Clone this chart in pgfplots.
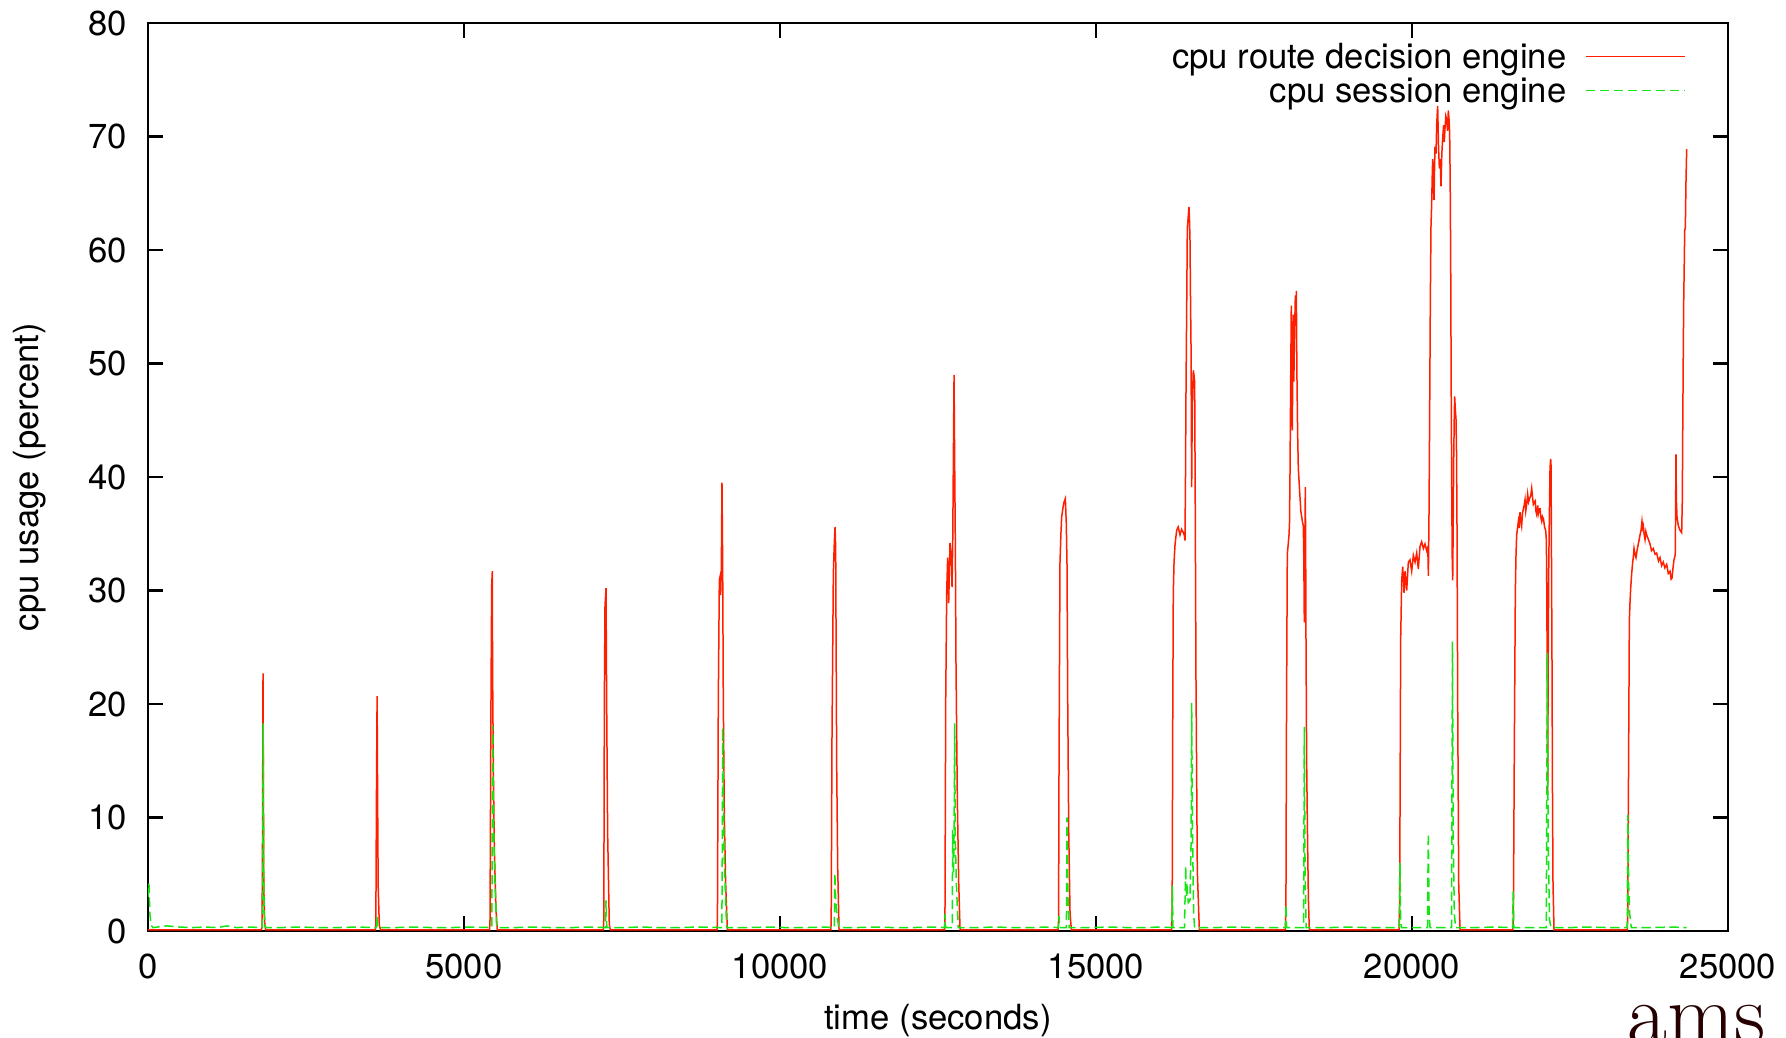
\documentclass[border=0pt]{standalone}
\usepackage{fontspec}
\setmainfont{TeX Gyre Heros}
\usepackage{pgfplots}
\pgfplotsset{compat=1.18}
\definecolor{cpured}{RGB}{255,30,0}
\definecolor{cpugreen}{RGB}{20,230,20}
\newcommand{\chartfont}{\fontsize{10.4bp}{12.5bp}\selectfont}
\begin{document}
\begin{tikzpicture}
\useasboundingbox (-44.4bp,-32.1bp) rectangle (491.4bp,279.3bp);
\begin{axis}[
  scale only axis, width=474bp, height=272.4bp,
  xmin=0, xmax=25000, ymin=0, ymax=80,
  xtick={0,5000,...,25000}, ytick={0,10,...,80},
  minor tick num=0,
  /pgf/number format/assume math mode=true,
  /pgf/number format/1000 sep={},
  scaled x ticks=false, scaled y ticks=false,
  tick align=inside, major tick length=4.5bp,
  every tick/.style={black, line width=0.7bp},
  axis line style={line width=0.7bp},
  tick label style={font=\chartfont},
  label style={font=\chartfont},
  yticklabel style={xshift=-2.7bp},
  xticklabel style={yshift=-3.5bp},
  xlabel={time (seconds)}, ylabel={cpu usage (percent)},
  xlabel style={at={(axis description cs:0.5,-0.109)}, anchor=base},
  ylabel style={at={(axis description cs:-0.0696,0.5)}, anchor=base},
  legend cell align=right, legend plot pos=right,
  legend style={draw=none, fill=none, inner sep=0pt, font=\chartfont,
    at={(axis description cs:0.9734,0.978)}, anchor=north east,
    row sep=-0.3bp, column sep=5.5bp,
    nodes={inner sep=0pt, text height=7.6bp, text depth=2.9bp}},
  legend image code/.code={\draw[#1] (0bp,1.4bp) -- (29.7bp,1.4bp);},
]
\addplot[cpured, line width=0.45bp] coordinates {
(0,0.1)(1790,0.1)(1805,0.3)(1812,8)(1820,22.7)(1825,14)(1832,4)(1845,0.8)(1860,0.1)
(3595,0.1)(3605,0.5)(3615,12)(3625,20.7)(3633,12)(3642,4)(3660,0.5)(3680,0.1)
(5405,0.1)(5412,1)(5425,18.3)(5438,30.4)(5448,31.7)(5452,23.3)(5464,14.5)(5480,7.2)(5506,1.9)(5527,0.1)
(7205,0.1)(7212,1)(7221,20.3)(7231,28.6)(7247,30.2)(7257,20.3)(7273,8.6)(7299,0.6)(7315,0.1)
(9005,0.1)(9010,1)(9024,20.3)(9040,30.9)(9051,31.2)(9061,29.6)(9072,32.1)(9082,39.5)(9093,32.1)(9103,20.3)(9119,10.1)(9140,4.2)(9167,0.1)
(10805,0.1)(10810,1)(10823,17.4)(10844,31.5)(10860,34.3)(10871,35.6)(10881,33.8)(10887,26.3)(10897,14.5)(10913,5.6)(10934,0.1)
(12604,0.1)(12610,1)(12622,20.3)(12638,30)(12653,32.9)(12669,28.9)(12690,34.2)(12710,33)(12722,30.3)(12733,34.2)(12743,41.5)(12754,49)(12760,44)(12769,37.7)(12775,33.6)(12785,23.3)(12806,11.5)(12828,4.2)(12849,0.1)
(14400,0.1)(14408,1)(14415,14.8)(14430,32.4)(14445,35)(14457,36.5)(14475,37.2)(14494,37.8)(14515,38.1)(14530,35.9)(14541,32.4)(14552,20.7)(14568,8.9)(14589,1.6)(14610,0.1)
(16195,0.1)(16205,2)(16215,20)(16223,29.8)(16235,32.5)(16250,34)(16276,35.3)(16300,35.6)(16329,34.9)(16355,35.4)(16382,35.1)(16400,34.8)(16408,34.4)(16416,40)(16424,47.5)(16435,55)(16445,61.9)(16460,63)(16471,63.8)(16480,62.5)(16487,61)(16495,56)(16503,51.8)(16514,39.1)(16520,44)(16529,47.5)(16540,49.4)(16550,49)(16561,48.4)(16570,38)(16582,22.2)(16603,5.3)(16635,0.1)
(17995,0.1)(18005,2)(18015,20)(18027,33.2)(18040,34)(18054,34.9)(18062,36)(18069,39.9)(18080,48)(18090,55.1)(18098,47)(18106,44.1)(18114,50)(18122,54.3)(18130,48.4)(18140,52)(18154,56)(18162,54)(18170,56.4)(18178,49.6)(18190,44)(18201,40.8)(18214,39.5)(18228,38.2)(18241,37)(18254,36.5)(18268,36)(18280,35.7)(18288,33)(18296,27.2)(18304,33)(18312,39.1)(18318,33)(18322,26.4)(18333,15)(18344,9.5)(18360,3)(18375,0.1)
(19795,0.1)(19805,3)(19821,25.8)(19837,30.9)(19853,32.1)(19874,29.8)(19890,31.7)(19916,30)(19942,32.5)(19968,32.7)(19995,31.7)(20021,33.1)(20048,32.5)(20074,33.3)(20100,31.9)(20127,33.9)(20153,34.3)(20180,33.7)(20206,34.1)(20232,33.5)(20250,33.8)(20259,31.3)(20268,36)(20275,41.6)(20290,55.4)(20300,62)(20311,64)(20320,66.5)(20327,68)(20337,66)(20348,64.4)(20356,67)(20364,69.1)(20380,68.5)(20391,71.1)(20406,72.7)(20420,69)(20433,67.2)(20446,68)(20459,65.6)(20472,68.5)(20486,69.9)(20500,71)(20510,69.5)(20522,70.7)(20535,71.8)(20549,71.5)(20562,70.5)(20575,72.3)(20586,71.5)(20596,70.3)(20604,66)(20612,59.3)(20620,48)(20628,39.6)(20636,33)(20644,30.9)(20652,36)(20660,41.6)(20668,45)(20675,47.1)(20685,46)(20696,45.1)(20705,42)(20712,35.7)(20723,20)(20739,4.2)(20760,0.1)
(21595,0.1)(21604,1)(21619,16)(21635,29.8)(21645,33)(21656,34.9)(21670,35.5)(21683,36.1)(21696,35.5)(21709,36.9)(21722,36.2)(21735,35.7)(21748,36.8)(21762,37.2)(21775,37.5)(21788,38)(21800,37)(21815,37.6)(21830,38.5)(21845,37.8)(21867,38.2)(21880,38.4)(21894,39)(21907,38.2)(21920,37.6)(21935,37.8)(21950,37.9)(21960,37)(21973,36.7)(21990,37.5)(22000,36.8)(22015,37.2)(22026,37.2)(22040,36.4)(22052,36.1)(22065,36.5)(22080,36.3)(22098,35.6)(22115,35.3)(22125,34.5)(22131,31.7)(22140,22)(22147,12)(22155,24)(22163,31.7)(22172,36)(22184,40.8)(22194,41.6)(22200,41)(22207,33)(22215,23.9)(22223,12)(22231,4.2)(22247,0.1)
(23405,0.1)(23413,1)(23428,16)(23439,27.4)(23450,29)(23460,30.2)(23476,31.5)(23492,32.5)(23503,33)(23513,33.7)(23528,33.2)(23544,32.9)(23560,33.5)(23581,34.1)(23595,34.5)(23608,34.9)(23624,35.3)(23639,36.1)(23650,35.5)(23660,35.7)(23672,35)(23687,34.5)(23700,35.2)(23713,34.9)(23740,34.5)(23766,34.1)(23790,33.5)(23818,33.7)(23845,33.2)(23871,33.3)(23900,32.6)(23924,32.9)(23950,32.2)(23977,32.5)(24000,32)(24030,32.3)(24055,31.5)(24082,31.7)(24100,31)(24114,31.1)(24130,32)(24145,32.7)(24160,33)(24166,33.3)(24172,38)(24177,42)(24183,38)(24193,36.5)(24214,35.7)(24241,35.3)(24267,35.1)(24277,38)(24283,43.5)(24291,50)(24299,55.4)(24315,61.7)(24325,62)(24335,66)(24346,68.9)
};
\addlegendentry{cpu route decision engine}
\addplot[cpugreen, line width=0.45bp, dash pattern=on 2.8bp off 1.4bp] coordinates {
(0,3.0)(15,4.2)(30,1.5)(50,0.5)(80,0.3)(300,0.45)(500,0.35)(700,0.3)(900,0.35)(1100,0.3)(1250,0.45)(1400,0.3)(1600,0.35)
(1810,0.3)(1816,5)(1822,18.3)(1826,12)(1830,6)(1838,2)(1850,0.5)(1865,0.3)(2100,0.3)(2400,0.35)(2700,0.3)(3000,0.3)(3300,0.35)
(3615,0.3)(3625,1.3)(3635,0.3)(3900,0.3)(4200,0.35)(4500,0.3)(4800,0.3)(5100,0.35)
(5440,0.3)(5448,10)(5454,18.1)(5464,10.1)(5491,4.2)(5517,0.3)(5800,0.3)(6100,0.35)(6400,0.3)(6700,0.3)(7000,0.35)
(7240,0.3)(7247,2.7)(7260,0.3)(7500,0.3)(7800,0.35)(8100,0.3)(8400,0.3)(8700,0.35)
(9080,0.3)(9088,8)(9093,17.9)(9103,11.5)(9124,5.1)(9156,0.3)(9500,0.3)(9800,0.35)(10100,0.3)(10400,0.3)(10700,0.35)
(10860,0.3)(10868,5.1)(10880,3)(10900,1.5)(10930,0.3)(11200,0.3)(11500,0.35)(11800,0.3)(12100,0.3)(12400,0.35)
(12605,0.3)(12612,1.5)(12620,0.3)(12725,0.3)(12733,8.9)(12745,5)(12755,9)(12764,18.3)(12772,8.6)(12790,4.2)(12820,0.3)(13100,0.3)(13400,0.35)(13700,0.3)(14000,0.3)(14200,0.35)
(14405,0.3)(14414,1.3)(14425,0.3)(14532,0.3)(14541,10)(14555,3.1)(14575,0.3)(14900,0.3)(15200,0.35)(15500,0.3)(15800,0.3)(16000,0.35)
(16200,0.3)(16208,4)(16218,0.3)(16400,0.3)(16419,5.7)(16430,3)(16445,3.6)(16460,2.5)(16487,2.7)(16505,8)(16514,20.1)(16525,9.5)(16545,1.5)(16560,0.3)(16900,0.3)(17200,0.35)(17500,0.3)(17800,0.3)
(18000,0.3)(18006,2.3)(18015,0.3)(18285,0.3)(18296,18)(18308,5.3)(18325,0.3)(18700,0.3)(19000,0.35)(19300,0.3)(19600,0.3)
(19800,0.3)(19809,6)(19820,1)(19835,0.3)(20245,0.3)(20258,8.6)(20270,1.5)(20285,0.3)(20625,0.3)(20640,25.5)(20652,8)(20670,1.5)(20690,0.3)(21000,0.3)(21300,0.35)
(21590,0.3)(21600,3.5)(21612,0.3)(22125,0.3)(22140,24.5)(22155,8)(22175,1)(22200,0.3)(22500,0.3)(22800,0.35)(23100,0.3)
(23405,0.3)(23415,10.2)(23428,4)(23445,1.5)(23470,0.3)(23800,0.3)(24100,0.35)(24346,0.3)
};
\addlegendentry{cpu session engine}
\end{axis}
\node[anchor=base west, inner sep=0pt, text=black!85!red] at (443.7bp,-33.6bp) {\fontfamily{lmr}\fontsize{26bp}{30bp}\selectfont ams};
\end{tikzpicture}
\end{document}
